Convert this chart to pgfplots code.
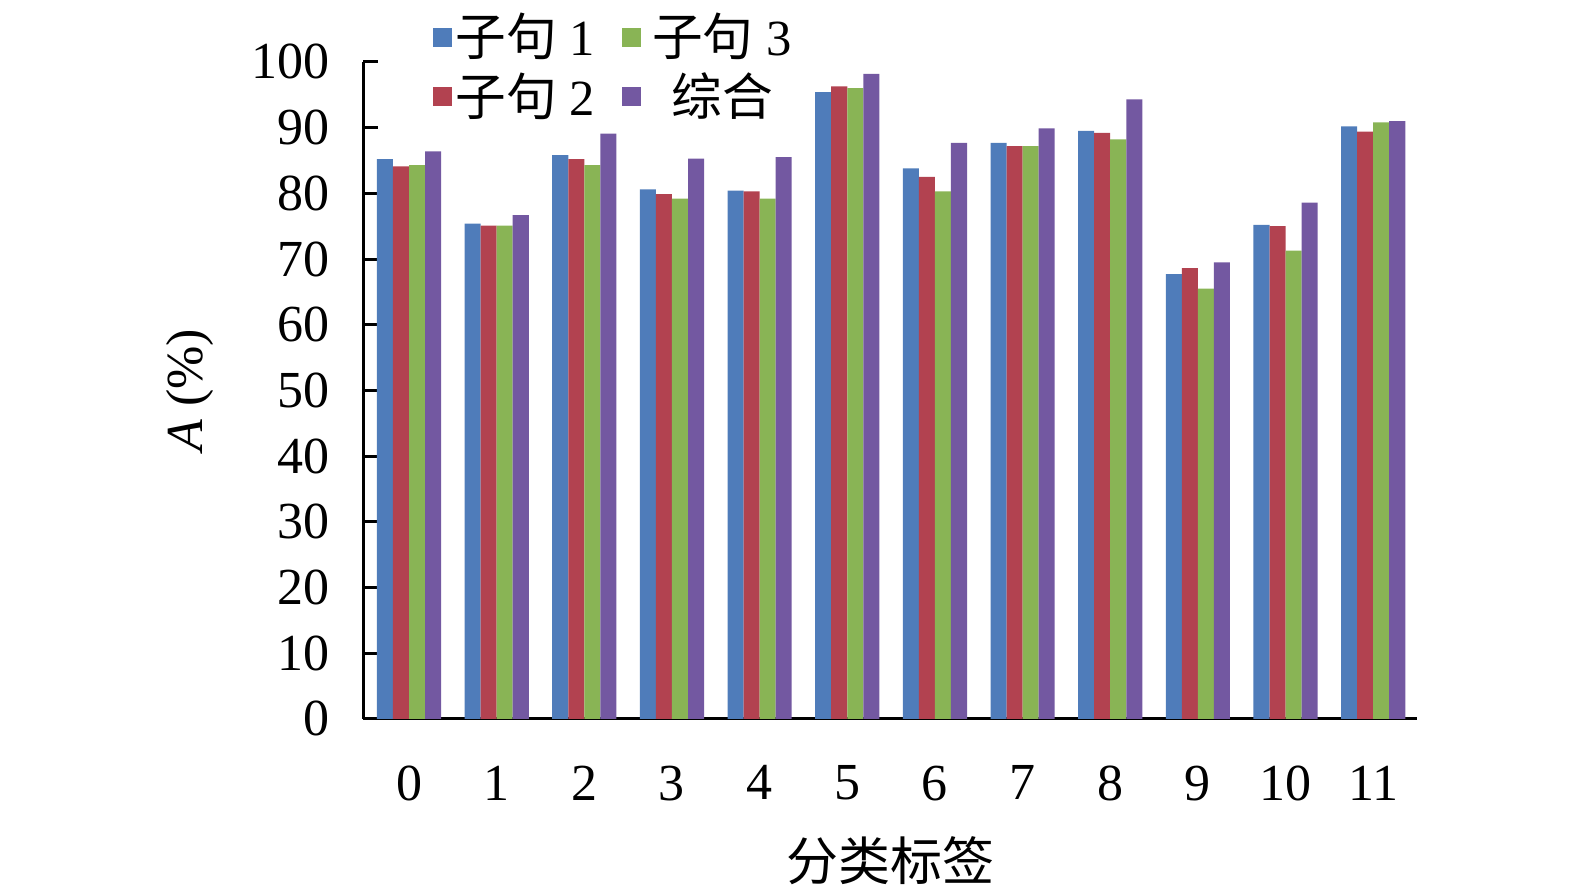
\documentclass[border=0pt]{standalone}
\usepackage{fontspec}
\setmainfont{Liberation Serif}
\newfontfamily\cjk{Noto Sans CJK SC}
\usepackage{pgfplots}
\pgfplotsset{compat=1.18}
\definecolor{cA}{RGB}{79,124,186}
\definecolor{cB}{RGB}{178,66,80}
\definecolor{cC}{RGB}{137,180,85}
\definecolor{cD}{RGB}{115,88,161}
\begin{document}
\begin{tikzpicture}
\begin{axis}[
  scale only axis, width=316.2pt, height=197.1pt,
  xmin=-0.525, xmax=11.5, ymin=0, ymax=100,
  ybar=0pt, bar width=0.183,
  axis lines*=left, axis line style={line width=0.9pt},
  xtick={0,...,11}, xtick style={draw=none},
  ytick={0,10,...,100}, major tick length=4.5pt, ytick style={line width=0.9pt, black},
  tick label style={font=\fontsize{15.6}{18}\selectfont},
  /pgf/number format/assume math mode=true,
  yticklabel style={xshift=-6.5pt},
  xticklabel style={yshift=-6pt},
  clip=false,
  legend columns=2, transpose legend,
  legend style={at={(rel axis cs:0.0655,1.08)}, anchor=north west, draw=none, fill=none,
    inner sep=0pt, row sep=1.5pt, font=\fontsize{15.2}{18}\selectfont,
    nodes={inner xsep=1.2pt, inner ysep=1pt},
    /tikz/every odd column/.append style={column sep=0pt},
    /tikz/every even column/.append style={column sep=7pt}},
  every axis plot/.append style={draw=none, legend image code/.code={\fill[##1] (0pt,-2.85pt) rectangle (5.7pt,2.85pt);}},
]
\addplot[fill=cA] coordinates {(0,85.2) (1,75.4) (2,85.8) (3,80.6) (4,80.4) (5,95.4) (6,83.8) (7,87.7) (8,89.5) (9,67.7) (10,75.2) (11,90.2)};
\addplot[fill=cB] coordinates {(0,84.1) (1,75.1) (2,85.2) (3,79.9) (4,80.3) (5,96.3) (6,82.5) (7,87.2) (8,89.2) (9,68.6) (10,75.0) (11,89.4)};
\addplot[fill=cC] coordinates {(0,84.3) (1,75.1) (2,84.3) (3,79.2) (4,79.2) (5,96.0) (6,80.3) (7,87.2) (8,88.2) (9,65.5) (10,71.3) (11,90.8)};
\addplot[fill=cD] coordinates {(0,86.4) (1,76.7) (2,89.1) (3,85.3) (4,85.5) (5,98.2) (6,87.7) (7,89.9) (8,94.3) (9,69.5) (10,78.6) (11,91.0)};
\legend{{\cjk 子句} 1,{\cjk 子句} 2,\hspace{2pt}{\cjk 子句} 3,\hspace{2.5pt}{\cjk 综合}}
\node[rotate=90, font=\fontsize{15.6}{18}\selectfont] at (rel axis cs:-0.164,0.5) {\textit{A} (\%)};
\node[font=\fontsize{15.6}{18}\selectfont\cjk] at (rel axis cs:0.5,-0.215) {分类标签};
\coordinate (bbl) at (rel axis cs:-0.3444,-0.2664);
\coordinate (btr) at (rel axis cs:1.1499,1.0943);
\end{axis}
\pgfresetboundingbox
\path[use as bounding box] (bbl) rectangle (btr);
\end{tikzpicture}
\end{document}
